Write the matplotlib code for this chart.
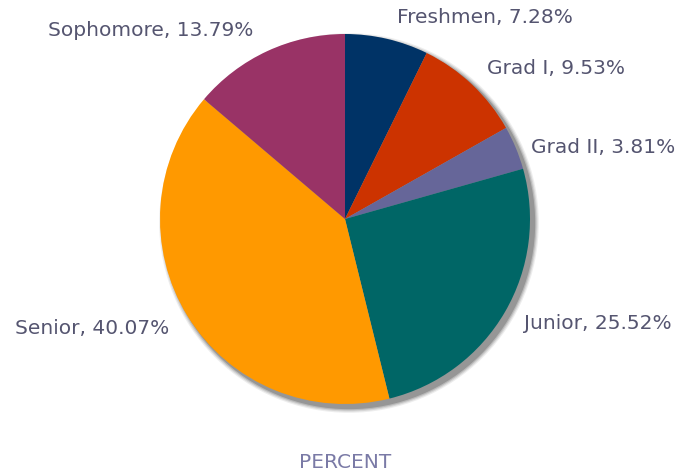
import matplotlib
matplotlib.use('Agg')
import matplotlib.pyplot as plt
from matplotlib.patches import Circle
from matplotlib.transforms import offset_copy

# class standing share of enrollment
categories = ['Freshmen', 'Grad I', 'Grad II', 'Junior', 'Senior', 'Sophomore']
percents = [7.28, 9.53, 3.81, 25.52, 40.07, 13.79]
colors = ['#003366', '#CC3300', '#666699', '#006666', '#FF9900', '#993366']

W, H = 678, 476
R_PX = 185.0
CX, CY = 345, 219

fig = plt.figure(figsize=(W / 100, H / 100), dpi=100)
ax = fig.add_axes([0, 0, 1, 1])

# soft drop shadow behind the pie
off = 4 / R_PX
for i, a in enumerate([0.10, 0.15, 0.22, 0.35]):
    r = 1 + (4 - i) * 1.2 / R_PX
    ax.add_patch(Circle((off, -off), r, color='#555555', alpha=a, lw=0, zorder=0))

labels = [f'{c}, {p:.2f}%' for c, p in zip(categories, percents)]
wedges, texts = ax.pie(percents, labels=labels, colors=colors, startangle=90,
                       counterclock=False, radius=1, labeldistance=1.12,
                       wedgeprops=dict(linewidth=0),
                       textprops=dict(fontsize=14.5, color='#555570',
                                      family='DejaVu Sans'))
for w in wedges:
    w.set_zorder(2)

# small label nudges (pixels) to match the original placement
nudges = {'Freshmen': (5, 0), 'Grad II': (-5, -8), 'Sophomore': (-5, 0)}
for t, c in zip(texts, categories):
    if c in nudges:
        dx, dy = nudges[c]
        t.set_transform(offset_copy(t.get_transform(), fig=fig, x=dx, y=dy, units='dots'))

ax.text(0, -(463 - CY) / R_PX, 'PERCENT', ha='center', va='center',
        fontsize=14.5, color='#7a7aa6', family='DejaVu Sans')

ax.set_xlim(-CX / R_PX, (W - CX) / R_PX)
ax.set_ylim(-(H - CY) / R_PX, CY / R_PX)
ax.set_aspect('auto')
ax.axis('off')

fig.savefig('out.png', dpi=100, facecolor='white')
